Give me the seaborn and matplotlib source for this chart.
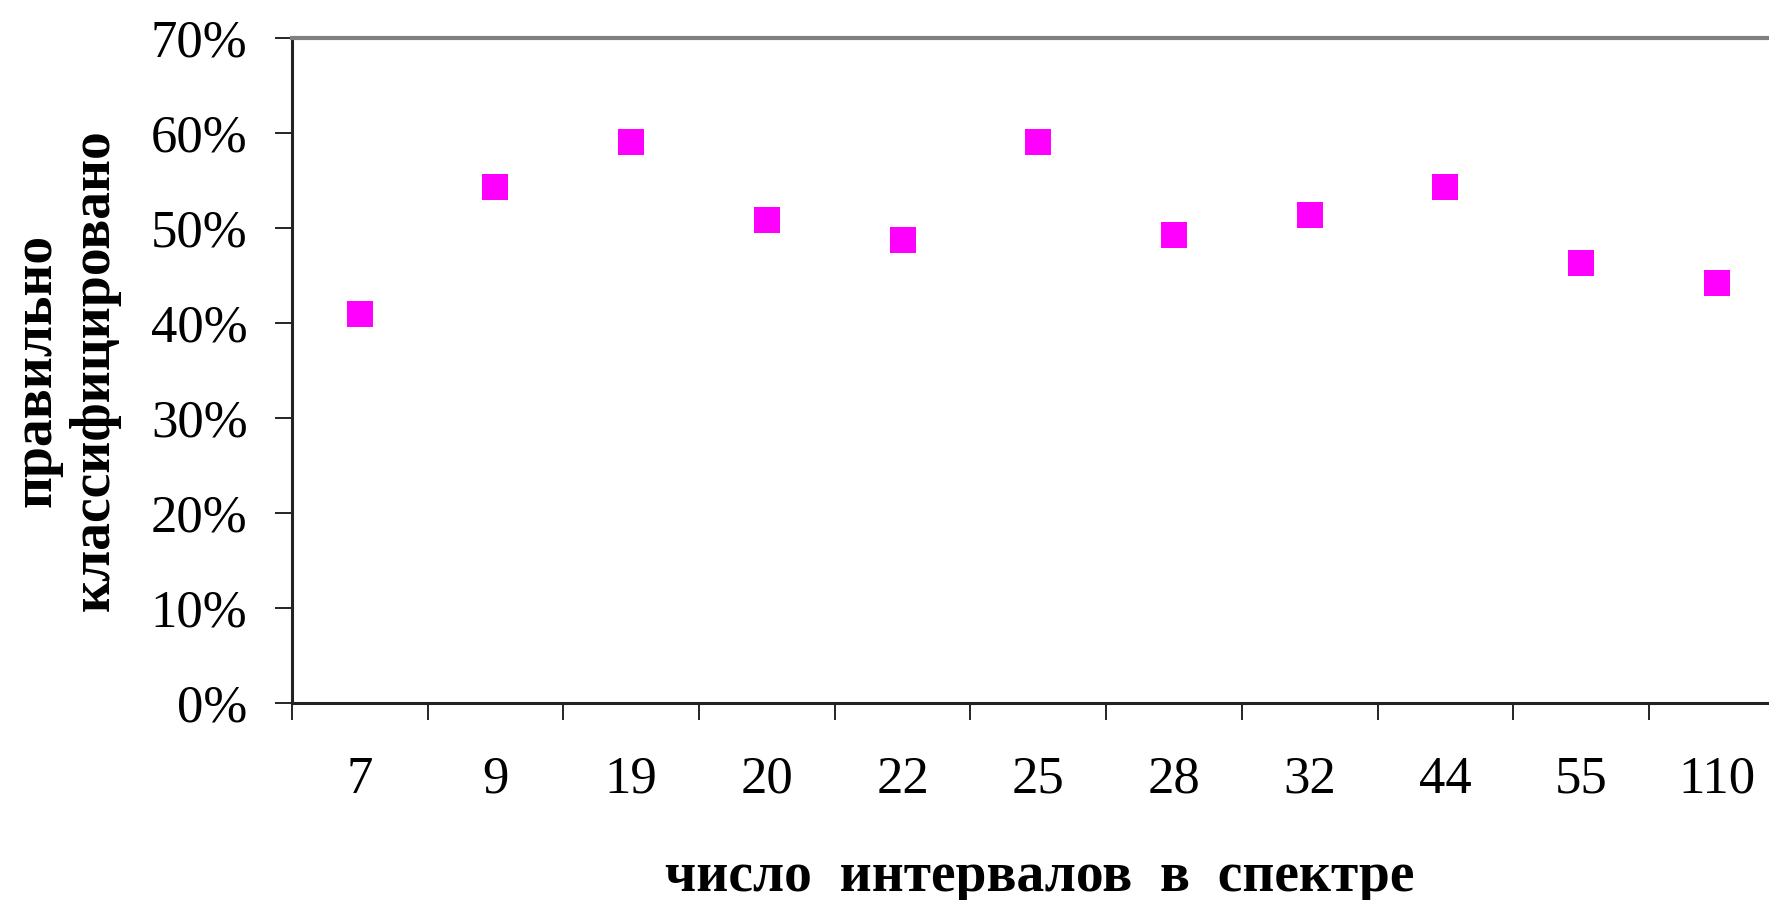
import matplotlib
matplotlib.use("Agg")
import matplotlib.pyplot as plt
from matplotlib.ticker import FixedLocator, FuncFormatter
import seaborn as sns
import pandas as pd

intervals = ["7", "9", "19", "20", "22", "25", "28", "32", "44", "55", "110"]
accuracy = [0.409, 0.543, 0.590, 0.508, 0.487, 0.590, 0.492, 0.513, 0.543, 0.463, 0.442]
y_ticks = [0, 0.1, 0.2, 0.3, 0.4, 0.5, 0.6, 0.7]

df = pd.DataFrame({"intervals": intervals, "accuracy": accuracy})

sns.set_style("white")
plt.rcParams["font.family"] = ["Liberation Serif", "DejaVu Serif"]
plt.rcParams["text.color"] = "black"
plt.rcParams["xtick.color"] = "black"
plt.rcParams["ytick.color"] = "black"
plt.rcParams["axes.labelcolor"] = "black"

fig = plt.figure(figsize=(17.69, 9), dpi=100)
ax = fig.add_axes([0.165, 0.219, 0.835, 0.739])

sns.scatterplot(data=df, x="intervals", y="accuracy", ax=ax, marker="s",
                s=330, color="#ff00ff", linewidth=0, legend=False)

n = len(intervals)
ax.set_xlim(-0.5, n - 0.615)
ax.set_ylim(0, 0.7)

# major ticks on category borders, labels sit on minor ticks at centres
ax.xaxis.set_major_locator(FixedLocator([i - 0.5 for i in range(n + 1)]))
ax.xaxis.set_major_formatter(FuncFormatter(lambda v, p: ""))
ax.xaxis.set_minor_locator(FixedLocator(list(range(n))))
ax.xaxis.set_minor_formatter(FuncFormatter(lambda v, p: intervals[int(round(v))]))
ax.tick_params(axis="x", which="major", direction="out", length=12, width=1.2,
               color="black", bottom=True)
ax.tick_params(axis="x", which="minor", length=0, pad=38, labelsize=38)

ax.set_yticks(y_ticks)
ax.yaxis.set_major_formatter(FuncFormatter(lambda v, p: f"{v * 100:.0f}%"))
ax.tick_params(axis="y", direction="out", length=12, width=1.2, color="black",
               left=True, pad=20, labelsize=38)

for side in ["left", "bottom"]:
    ax.spines[side].set_color("#222222")
    ax.spines[side].set_linewidth(2.2)
ax.spines["top"].set_color("#808080")
ax.spines["top"].set_linewidth(3)
ax.spines["right"].set_visible(False)

ax.set_xlabel("число  интервалов  в  спектре", fontsize=40, fontweight="bold",
              va="center")
ax.xaxis.set_label_coords(0.506, -0.262)
ax.set_ylabel("правильно\nклассифицировано", fontsize=40, fontweight="bold",
              linespacing=1.15, va="center")
ax.yaxis.set_label_coords(-0.153, 0.5)

fig.savefig("out.png", dpi=100)
